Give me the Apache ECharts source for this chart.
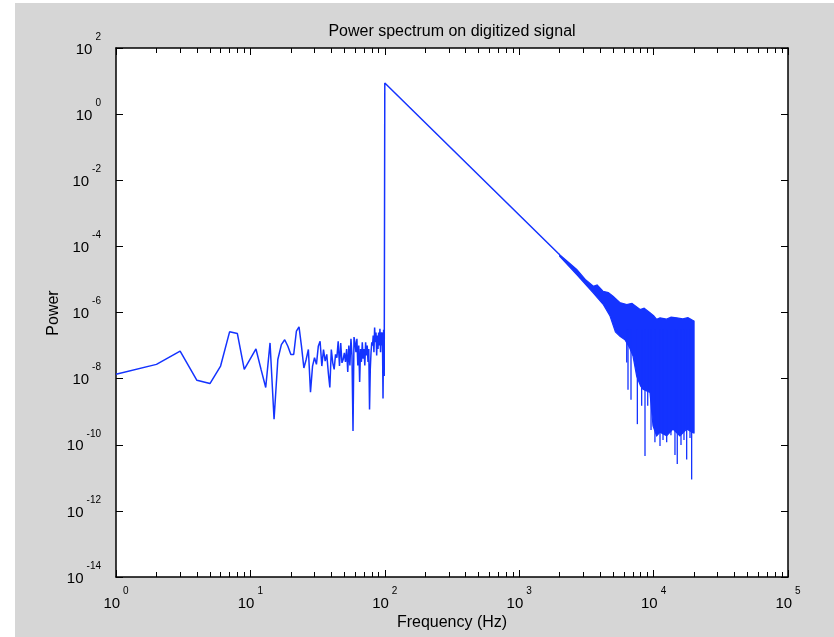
<!DOCTYPE html>
<html><head><meta charset="utf-8">
<script src="https://cdn.jsdelivr.net/npm/echarts@6/dist/echarts.min.js"></script>
<style>
html,body{margin:0;padding:0;background:#fff;width:834px;height:637px;overflow:hidden}
#chart{position:absolute;left:15px;top:3px;width:819px;height:634px}
</style></head><body><div id="chart"></div>
<script>
// ---- tick labels ----
const xTickValues = [1, 10, 100, 1000, 10000, 100000];
const yTickValues = [1e-14, 1e-12, 1e-10, 1e-8, 1e-6, 1e-4, 1e-2, 1, 1e2];
const titleText = 'Power spectrum on digitized signal';
const xName = 'Frequency (Hz)';
const yName = 'Power';

// ---- data: low-frequency noise (1 Hz bins) ----
const lowFreq = [1,2,3,4,5,6,7,8,9,10,11,12,13,14,15,16,17,18,19,20,21,22,23,24,25,26,27,28,29,30,
  31,32,33,34,35,36,37,38,39,40,41,42,43,44,45,46,47,48,49,50,51,52,53,54,55,56,57,58,59,60,
  61,62,63,64,65,66,67,68,69,70,71,72,73,74,75,76,77,78,79,80,81,82,83,84,85,86,87,88,89,90,
  91,92,93,94,95,96,97,98,99];
const lowPower = [1.35e-8,2.7e-8,6.8e-8,8.9e-9,7.1e-9,2.4e-8,2.6e-7,2.3e-7,1.9e-8,4.0e-8,
  7.9e-8,1.9e-8,5.4e-9,1.2e-7,5.9e-10,3.8e-8,1.07e-7,1.5e-7,9.5e-8,5.4e-8,
  5.4e-8,2.75e-7,3.7e-7,9.5e-8,2.1e-8,3.8e-8,7.6e-8,3.9e-9,2.4e-8,4.3e-8,
  2.7e-8,9.5e-8,1.35e-7,2.4e-8,7.6e-8,3.4e-8,5.4e-8,1.5e-8,5.4e-9,7.6e-8,
  3.0e-8,1.9e-8,5.4e-8,4.3e-8,1.35e-7,2.4e-8,1.2e-7,3.0e-8,3.8e-8,6.0e-8,
  3.2e-8,7.9e-8,1.6e-8,1.0e-7,2.5e-8,1.6e-7,5.0e-8,2.6e-10,1.8e-7,1.26e-7,
  6.3e-8,1.6e-7,2.5e-8,1.0e-7,7.9e-9,7.9e-8,3.2e-8,1.26e-7,4.0e-8,7.9e-8,
  2.5e-8,1.26e-7,5.0e-8,1.0e-7,3.2e-8,7.9e-8,1.17e-9,2.0e-8,6.3e-8,1.26e-7,
  1.0e-7,2.0e-7,6.3e-8,3.5e-7,1.26e-7,2.5e-7,5.0e-8,2.0e-7,7.9e-8,2.5e-7,
  1.0e-7,3.2e-7,6.3e-8,2.5e-7,1.0e-7,2.5e-7,2.5e-9,3.0e-7,1.2e-8];

// ---- data: tone peak and decay ----
const decayFreq = [100, 1000, 2000];
const decayPower = [8.7, 8.9e-4, 5.6e-5];

// ---- data: high-frequency noise band (upper / lower envelopes) ----
const bandHiFreq = [2000, 2680, 3100, 3560, 3800, 4200, 4600, 4990, 5600, 6310, 6900, 7930, 8500, 9400, 10000, 10540, 11160, 12500, 13500, 14860, 16500, 18000, 20000];
const bandHiPower = [5.6e-5, 2.0e-5, 1.0e-5, 6.2e-6, 6.8e-6, 4.4e-6, 4.0e-6, 3.1e-6, 2.0e-6, 1.74e-6, 1.9e-6, 1.23e-6, 1.35e-6, 9.8e-7, 8.0e-7, 6.2e-7, 6.9e-7, 6.3e-7, 7.2e-7, 6.9e-7, 6.4e-7, 7.0e-7, 5.5e-7];
const bandLoFreq = [2000, 2680, 3540, 4200, 4740, 5200, 5620, 6120, 6600, 7030, 7480, 8000, 8340, 9400, 9900, 10540, 11160, 12510, 13930, 15700, 17620, 19730, 20000];
const bandLoPower = [5.0e-5, 1.41e-5, 4.0e-6, 1.8e-6, 7.8e-7, 2.6e-7, 1.9e-7, 1.5e-7, 9.0e-8, 4.8e-8, 1.2e-8, 6.0e-9, 4.8e-9, 3.8e-9, 3.7e-10, 1.86e-10, 2.4e-10, 1.86e-10, 3.0e-10, 1.86e-10, 3.0e-10, 2.3e-10, 2.3e-10];

// ---- data: deep dips below the band ----
const spikeFreq = [6310, 6450, 6790, 7570, 8150, 8630, 9040, 9570, 10230, 11160, 11750, 12510, 13460, 14420, 15000, 15990, 16830, 17620, 18660, 19190];
const spikeTop = [3e-7, 3e-7, 3e-7, 3e-7, 3e-7, 3e-7, 3e-7, 3e-7, 3e-7, 3e-7, 3e-7, 3e-7, 3e-7, 3e-7, 3e-7, 3e-7, 3e-7, 3e-7, 3e-7, 3e-7];
const spikeLow = [3.1e-8, 4.6e-9, 2.3e-9, 4.2e-10, 1.5e-9, 4.6e-11, 1.5e-9, 2.8e-10, 1.2e-10, 9.1e-11, 1.4e-10, 1.2e-10, 1.95e-10, 4.9e-11, 2.6e-11, 9.8e-11, 1.4e-10, 3.6e-11, 1.6e-10, 8.9e-12];

const BLUE = '#1433ff';
const FONT = 'Liberation Sans';

const minorX = [];
for (let k = 0; k < 5; k++) for (let m = 2; m <= 9; m++) minorX.push(m * Math.pow(10, k));

const rich = {
  s: {width: 0, lineHeight: 25, fontSize: 10},
  b: {fontSize: 15, fontFamily: FONT, color: '#000', verticalAlign: 'bottom'},
  e: {fontSize: 10, fontFamily: FONT, color: '#000', verticalAlign: 'top', padding: [0, 0, 0, 3]}
};
const fmt = v => '{s| }{b|10}{e|' + Math.round(Math.log10(v)) + '}';

function xAx(pos, ticks, len, showLabel, showLine) {
  return {
    type: 'log', logBase: 10, min: 1, max: 1e5, position: pos,
    axisLine: {show: showLine, lineStyle: {color: '#000', width: 1.5}},
    axisTick: {show: true, inside: true, length: len, customValues: ticks, lineStyle: {color: '#000', width: 1}},
    axisLabel: showLabel ? {show: true, customValues: xTickValues, formatter: fmt, rich: rich, margin: 9} : {show: false},
    splitLine: {show: false}, minorTick: {show: false}
  };
}
function yAx(pos, showLabel) {
  return {
    type: 'log', logBase: 10, min: 1e-14, max: 1e2, position: pos,
    axisLine: {show: true, lineStyle: {color: '#000', width: 1.5}},
    axisTick: {show: true, inside: true, length: 7, customValues: yTickValues, lineStyle: {color: '#000', width: 1}},
    axisLabel: showLabel ? {show: true, customValues: yTickValues, formatter: fmt, rich: rich, margin: 15, padding: [0, 0, 7, 0]} : {show: false},
    splitLine: {show: false}, minorTick: {show: false}
  };
}

const chart = echarts.init(document.getElementById('chart'), null, {renderer: 'canvas'});
chart.setOption({
  animation: false,
  backgroundColor: '#d6d6d6',
  grid: {left: 101, top: 45, right: 46, bottom: 60, show: true, backgroundColor: '#fff', borderWidth: 0, containLabel: false},
  xAxis: [
    xAx('bottom', xTickValues, 7, true, true),
    xAx('bottom', minorX, 5, false, false),
    xAx('top', xTickValues, 7, false, true),
    xAx('top', minorX, 5, false, false)
  ],
  yAxis: [yAx('left', true), yAx('right', false)],
  graphic: [
    {type: 'text', x: 437, y: 29, style: {text: titleText, font: '16px "Liberation Sans"', fill: '#000', textAlign: 'center', textVerticalAlign: 'middle'}},
    {type: 'text', x: 437, y: 620, style: {text: xName, font: '16px "Liberation Sans"', fill: '#000', textAlign: 'center', textVerticalAlign: 'middle'}},
    {type: 'text', x: 39, y: 310, rotation: Math.PI / 2, style: {text: yName, font: '16px "Liberation Sans"', fill: '#000', textAlign: 'center', textVerticalAlign: 'middle'}}
  ],
  series: [
    {
      type: 'line', xAxisIndex: 0, yAxisIndex: 0, showSymbol: false, symbol: 'none',
      lineStyle: {color: BLUE, width: 1.5}, itemStyle: {color: BLUE},
      data: lowFreq.map((f, i) => [f, lowPower[i]]).concat(decayFreq.map((f, i) => [f, decayPower[i]])),
      z: 3
    },
    {
      type: 'custom', xAxisIndex: 0, yAxisIndex: 0,
      data: [[bandHiFreq[0], bandHiPower[0]]],
      renderItem: function (params, api) {
        const pts = [];
        for (let i = 0; i < bandHiFreq.length; i++) pts.push(api.coord([bandHiFreq[i], bandHiPower[i]]));
        for (let i = bandLoFreq.length - 1; i >= 0; i--) pts.push(api.coord([bandLoFreq[i], bandLoPower[i]]));
        return {type: 'polygon', shape: {points: pts}, style: {fill: BLUE, stroke: BLUE, lineWidth: 1.2}};
      },
      z: 3
    },
    {
      type: 'custom', xAxisIndex: 0, yAxisIndex: 0,
      data: spikeFreq.map((f, i) => [f, spikeTop[i], spikeLow[i]]),
      encode: {x: 0, y: [1, 2]},
      renderItem: function (params, api) {
        const p1 = api.coord([api.value(0), api.value(1)]);
        const p2 = api.coord([api.value(0), api.value(2)]);
        return {type: 'line', shape: {x1: p1[0], y1: p1[1], x2: p2[0], y2: p2[1]}, style: {stroke: BLUE, lineWidth: 1.3}};
      },
      z: 3
    }
  ]
});
</script></body></html>
